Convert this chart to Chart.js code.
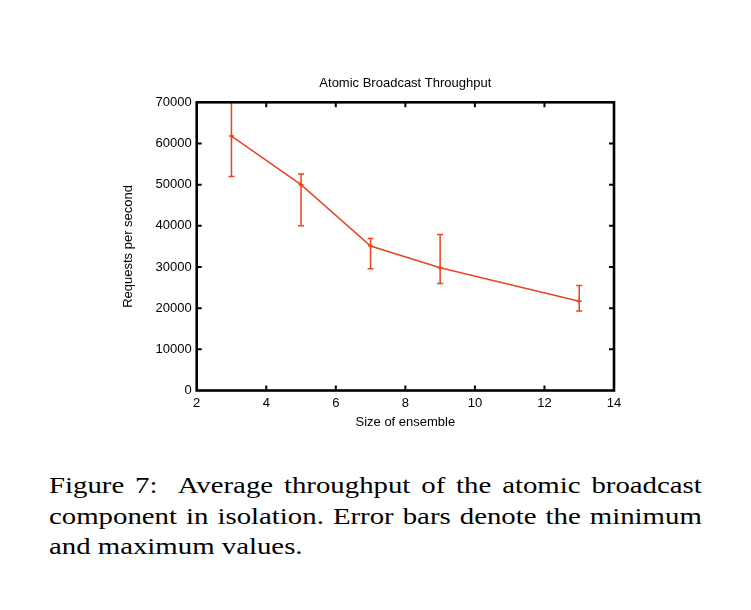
<!DOCTYPE html>
<html>
<head>
<meta charset="utf-8">
<script src="https://cdn.jsdelivr.net/npm/chart.js@4/dist/chart.umd.min.js"></script>
<style>
  html, body { margin: 0; padding: 0; background: #fff; }
  #wrap { position: absolute; left: 0; top: 0; width: 751px; height: 450px; }
  #caption {
    position: absolute; left: 49px; top: 470px; width: 544px;
    transform: scaleX(1.2); transform-origin: left top;
    font-family: "Liberation Serif", "Times New Roman", serif;
    font-size: 24px; line-height: 30.5px; color: #000;
  }
  #caption .j { text-align: justify; text-align-last: justify; }
</style>
</head>
<body>
<div id="wrap"><canvas id="chart"></canvas></div>
<div id="caption">
  <div class="j">Figure 7:&nbsp; Average throughput of the atomic broadcast</div>
  <div class="j">component in isolation. Error bars denote the minimum</div>
  <div>and maximum values.</div>
</div>
<script>
  // ensemble sizes and measured throughput (requests/s)
  const ensembleSizes = [3, 5, 7, 9, 13];
  const avgThroughput = [61800, 50000, 35100, 29800, 21700];
  const minThroughput = [52000, 40000, 29600, 26000, 19300];
  const maxThroughput = [72000, 52600, 36900, 37900, 25500];

  const xTicks = [2, 4, 6, 8, 10, 12, 14];
  const yTicks = [0, 10000, 20000, 30000, 40000, 50000, 60000, 70000];

  const lineColor = '#e8461e';
  const font13 = { family: '"Liberation Sans", Arial, Helvetica, sans-serif', size: 13 };

  // min/max error bars, drawn through the scales
  const errorBars = {
    id: 'errorBars',
    afterDatasetsDraw(chart) {
      const { ctx, chartArea, scales: { x, y } } = chart;
      ctx.save();
      ctx.beginPath();
      ctx.rect(chartArea.left, chartArea.top, chartArea.right - chartArea.left, chartArea.bottom - chartArea.top);
      ctx.clip();
      ctx.strokeStyle = lineColor;
      ctx.lineWidth = 1.5;
      for (let i = 0; i < ensembleSizes.length; i++) {
        const px = x.getPixelForValue(ensembleSizes[i]);
        const lo = y.getPixelForValue(minThroughput[i]);
        const hi = y.getPixelForValue(maxThroughput[i]);
        ctx.beginPath();
        ctx.moveTo(px, lo); ctx.lineTo(px, hi);
        ctx.moveTo(px - 3, lo); ctx.lineTo(px + 3, lo);
        ctx.moveTo(px - 3, hi); ctx.lineTo(px + 3, hi);
        ctx.stroke();
      }
      ctx.restore();
    }
  };

  // heavy gnuplot-style frame with inward ticks on all four sides
  const frame = {
    id: 'frame',
    afterDraw(chart) {
      const { ctx, chartArea: a, scales: { x, y } } = chart;
      ctx.save();
      ctx.strokeStyle = '#000';
      ctx.lineWidth = 2;
      ctx.beginPath();
      xTicks.slice(1, -1).forEach(v => {
        const px = x.getPixelForValue(v);
        ctx.moveTo(px, a.bottom); ctx.lineTo(px, a.bottom - 5);
        ctx.moveTo(px, a.top); ctx.lineTo(px, a.top + 5);
      });
      yTicks.slice(1, -1).forEach(v => {
        const py = y.getPixelForValue(v);
        ctx.moveTo(a.left, py); ctx.lineTo(a.left + 5, py);
        ctx.moveTo(a.right, py); ctx.lineTo(a.right - 5, py);
      });
      ctx.stroke();
      ctx.lineWidth = 2.6;
      ctx.strokeRect(a.left, a.top, a.right - a.left, a.bottom - a.top);
      ctx.restore();
    }
  };

  new Chart(document.getElementById('chart'), {
    type: 'line',
    data: {
      datasets: [{
        data: ensembleSizes.map((s, i) => ({ x: s, y: avgThroughput[i] })),
        borderColor: lineColor,
        backgroundColor: lineColor,
        borderWidth: 1.5,
        pointStyle: 'cross',
        pointRadius: 2.5,
        pointBorderWidth: 1.5,
        tension: 0,
        fill: false
      }]
    },
    options: {
      animation: false,
      responsive: true,
      maintainAspectRatio: false,
      layout: { padding: { left: 120.2, right: 137, top: 75.6, bottom: 19.7 } },
      plugins: {
        legend: { display: false },
        tooltip: { enabled: false },
        title: {
          display: true,
          text: 'Atomic Broadcast Throughput',
          fullSize: false,
          color: '#000',
          font: { ...font13, weight: 'normal' },
          padding: { top: 0, bottom: 11.1 }
        }
      },
      scales: {
        x: {
          type: 'linear',
          min: 2, max: 14,
          afterBuildTicks: s => { s.ticks = xTicks.map(v => ({ value: v })); },
          afterFit: s => { s.height = 39.8; },
          grid: { display: false, drawTicks: false },
          border: { display: false },
          ticks: { color: '#000', font: font13, padding: 5.2, maxRotation: 0 },
          title: { display: true, text: 'Size of ensemble', color: '#000', font: font13, padding: 0 }
        },
        y: {
          type: 'linear',
          min: 0, max: 70000,
          afterBuildTicks: s => { s.ticks = yTicks.map(v => ({ value: v })); },
          afterFit: s => { s.width = 76.5; },
          grid: { display: false, drawTicks: false },
          border: { display: false },
          ticks: { color: '#000', font: font13, padding: 5, callback: v => String(v) },
          title: { display: true, text: 'Requests per second', color: '#000', font: font13, padding: 0 }
        }
      }
    },
    plugins: [errorBars, frame]
  });
</script>
</body>
</html>
